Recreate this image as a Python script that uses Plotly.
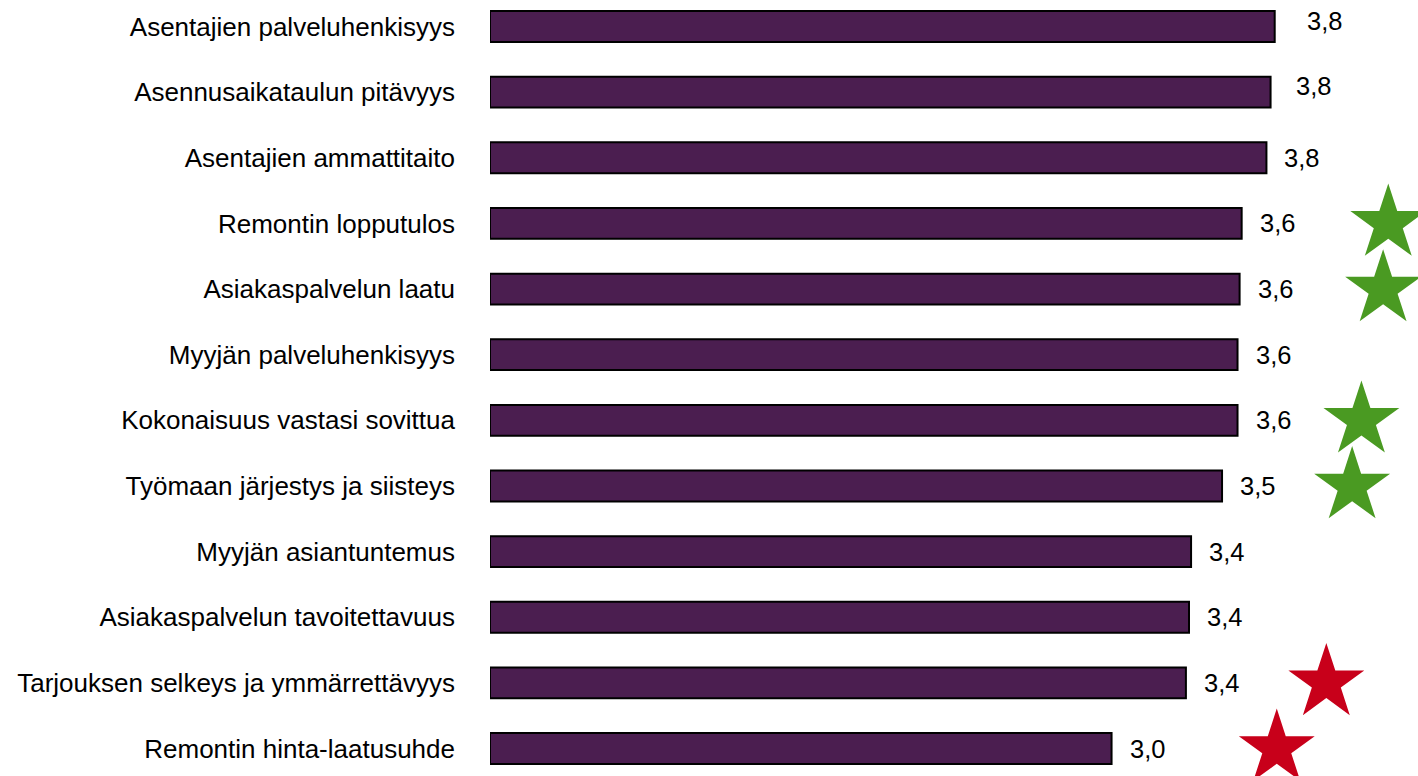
import plotly.graph_objects as go

categories = [
    "Asentajien palveluhenkisyys",
    "Asennusaikataulun pitävyys",
    "Asentajien ammattitaito",
    "Remontin lopputulos",
    "Asiakaspalvelun laatu",
    "Myyjän palveluhenkisyys",
    "Kokonaisuus vastasi sovittua",
    "Työmaan järjestys ja siisteys",
    "Myyjän asiantuntemus",
    "Asiakaspalvelun tavoitettavuus",
    "Tarjouksen selkeys ja ymmärrettävyys",
    "Remontin hinta-laatusuhde",
]
values = [3.80, 3.78, 3.76, 3.64, 3.63, 3.62, 3.62, 3.545, 3.395, 3.385, 3.37, 3.01]

# significance markers (star) per category
star_categories = [
    "Remontin lopputulos",
    "Asiakaspalvelun laatu",
    "Kokonaisuus vastasi sovittua",
    "Työmaan järjestys ja siisteys",
    "Tarjouksen selkeys ja ymmärrettävyys",
    "Remontin hinta-laatusuhde",
]
star_kind = ["up", "up", "up", "up", "down", "down"]

# style
BAR_COLOR = "#4B1E50"
STAR_COLORS = {"up": "#4A9A22", "down": "#C8001A"}
FONT = "Liberation Sans, Arial, sans-serif"
FS = 25.5
TICK_FS = 26
W, H = 1418, 776
LEFT = 490
PX_PER_UNIT = 206.5
star_x_pos = [4.35, 4.325, 4.22, 4.175, 4.05, 3.81]
label_nudge = {0: (14, 6), 1: (7, 6)}

fig = go.Figure()
fig.add_trace(go.Bar(
    x=values, y=categories, orientation="h",
    marker=dict(color=BAR_COLOR, line=dict(color="#000000", width=2)),
    width=0.47, hoverinfo="skip",
))
fig.add_trace(go.Scatter(
    x=star_x_pos, y=star_categories, mode="markers",
    marker=dict(symbol="star", size=57,
                color=[STAR_COLORS[k] for k in star_kind], line=dict(width=0)),
    cliponaxis=False, hoverinfo="skip",
))

for i, (c, v) in enumerate(zip(categories, values)):
    dx, dy = label_nudge.get(i, (0, 0))
    fig.add_annotation(
        x=v, y=c, text=f"{v:.1f}".replace(".", ","), showarrow=False,
        xanchor="left", yanchor="middle", xshift=16 + dx, yshift=dy,
        font=dict(family=FONT, size=FS, color="#000000"),
    )

fig.update_layout(
    width=W, height=H,
    margin=dict(l=LEFT, r=0, t=0, b=0, pad=0),
    paper_bgcolor="white", plot_bgcolor="white",
    showlegend=False,
    font=dict(family=FONT, size=FS, color="#000000"),
    xaxis=dict(range=[0, (W - LEFT) / PX_PER_UNIT], visible=False, fixedrange=True),
    yaxis=dict(
        categoryorder="array", categoryarray=categories,
        range=[11.419, -0.404], showgrid=False, zeroline=False, showline=False,
        ticks="", ticklabelstandoff=34, fixedrange=True,
        tickfont=dict(family=FONT, size=TICK_FS, color="#000000"),
    ),
)

fig.write_html(
    "out.html",
    config={"displayModeBar": False},
    post_script="document.body.style.margin='0';document.body.style.overflow='hidden';",
)
